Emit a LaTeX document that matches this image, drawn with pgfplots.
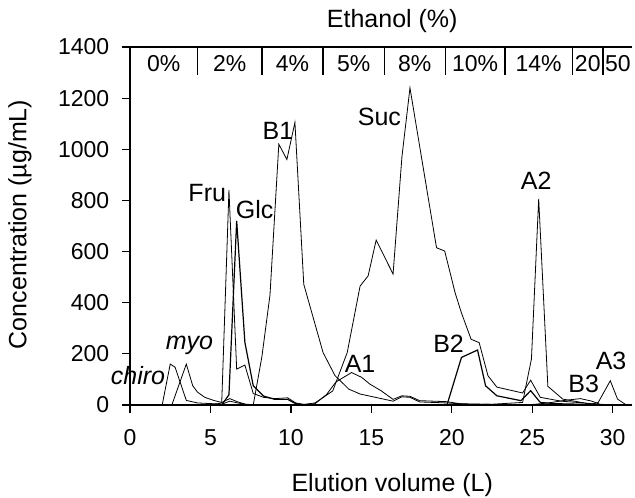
\documentclass[border=0pt]{standalone}
\usepackage{fontspec}
\setmainfont{Liberation Sans}
\usepackage{pgfplots}
\pgfplotsset{compat=1.18}
\usetikzlibrary{calc}

\begin{document}
\fontsize{12.5}{15}\selectfont
\begin{tikzpicture}
\begin{axis}[
    name=ax,
    scale only axis,
    width=251pt, height=179pt,
    xmin=0, xmax=31.2, ymin=0, ymax=1400,
    axis lines=left,
    axis line style={-, line width=0.6pt},
    tick style={black, line width=0.6pt},
    tick align=outside,
    major tick length=4pt,
    xtick={0,5,...,30},
    ytick={0,200,...,1400},
    clip=false,
    /pgf/number format/assume math mode=true,
    /pgf/number format/1000 sep={},
    ticklabel style={font=\fontsize{11.5}{13}\selectfont},
    xticklabel style={yshift=-4pt},
    yticklabel style={xshift=-2pt},
    cycle list={{black, solid, mark=none, line width=0.6pt}},
]
% chiro
\addplot coordinates {(0,0) (2.0,0) (2.5,160) (2.8,148) (3.5,18) (4.2,8) (5.2,5) (5.7,3) (6.2,15) (6.7,8) (7.2,2) (8.0,0) (12,0)};
% myo
\addplot coordinates {(0,0) (2.6,0) (3.5,160) (3.9,75) (4.2,50) (4.65,30) (5.2,18) (5.7,10) (6.2,25) (6.7,12) (7.2,3) (8.0,0) (12,0)};
% Fru
\addplot coordinates {(5.0,0) (5.7,8) (6.15,840) (6.63,140) (7.14,156) (7.66,45) (8.3,30) (9.0,25) (9.8,28) (10.3,8) (11,0) (12,0)};
% Glc
\addplot coordinates {(5.0,0) (5.7,0) (6.15,40) (6.63,720) (7.14,245) (7.66,75) (8.3,35) (9.0,22) (9.8,22) (10.3,5) (11,0) (12,0)};
% B1
\addplot coordinates {(6.5,0) (7.66,0) (8.2,190) (8.7,430) (9.25,1020) (9.75,960) (10.25,1105) (10.8,472) (12.0,205) (12.74,115) (13.6,62) (14.3,43) (15.4,28) (16.35,15) (16.9,32) (17.4,30) (18.0,12) (19.7,8) (21,3) (23,2) (25,0)};
% Suc
\addplot coordinates {(10.5,0) (11.5,8) (12.6,55) (13.5,205) (14.3,465) (14.8,505) (15.3,645) (16.35,512) (16.9,970) (17.4,1240) (19.05,615) (19.56,602) (20.2,440) (20.6,360) (21.2,257) (21.7,244) (22.25,114) (22.8,70) (24.4,47) (24.9,97) (25.5,30) (26.8,15) (28.2,8) (29.5,0)};
% A1
\addplot coordinates {(10.5,0) (11.5,5) (12.2,40) (12.8,90) (13.77,127) (14.4,108) (14.9,82) (15.6,56) (16.35,22) (16.9,36) (17.4,34) (18.0,17) (19.7,13) (20.5,5) (22,3) (24,0)};
% B2
\addplot coordinates {(18.0,0) (19.7,0) (20.6,186) (21.6,215) (22.1,75) (22.8,36) (24.3,17) (24.9,56) (25.5,10) (26.5,5) (28,3) (29,0)};
% A2
\addplot coordinates {(20,0) (22.5,3) (24.4,10) (24.95,180) (25.4,806) (25.97,73) (26.9,23) (28.5,5) (29.5,0)};
% B3
\addplot coordinates {(22,0) (25,2) (26,8) (27,18) (28,25) (28.7,15) (29.2,3) (30,0)};
% A3
\addplot coordinates {(26,0) (28.5,0) (29.1,10) (29.85,95) (30.3,23) (30.85,0)};

% peak labels
\node[font=\itshape] at (axis cs:0.5,117) {chiro};
\node[font=\itshape] at (axis cs:3.7,232) {myo};
\node at (axis cs:4.8,830) {Fru};
\node at (axis cs:7.75,765) {Glc};
\node at (axis cs:9.2,1073) {B1};
\node at (axis cs:15.5,1127) {Suc};
\node at (axis cs:14.3,160) {A1};
\node at (axis cs:19.8,238) {B2};
\node at (axis cs:25.25,875) {A2};
\node at (axis cs:28.2,82) {B3};
\node at (axis cs:29.9,173) {A3};

% ethanol steps
\draw[line width=0.6pt] (axis cs:0,1400) -- (axis cs:31.2,1400);
\draw[line width=0.6pt] (axis cs:4.2,1400) -- (axis cs:4.2,1290);
\draw[line width=0.6pt] (axis cs:8.2,1400) -- (axis cs:8.2,1290);
\draw[line width=0.6pt] (axis cs:12.0,1400) -- (axis cs:12.0,1290);
\draw[line width=0.6pt] (axis cs:15.8,1400) -- (axis cs:15.8,1290);
\draw[line width=0.6pt] (axis cs:19.6,1400) -- (axis cs:19.6,1290);
\draw[line width=0.6pt] (axis cs:23.3,1400) -- (axis cs:23.3,1290);
\draw[line width=0.6pt] (axis cs:27.5,1400) -- (axis cs:27.5,1290);
\draw[line width=0.6pt] (axis cs:29.4,1400) -- (axis cs:29.4,1290);
\begin{scope}[font=\fontsize{11.5}{13}\selectfont]
\node at (axis cs:2.1,1335) {0\%};
\node at (axis cs:6.2,1335) {2\%};
\node at (axis cs:10.1,1335) {4\%};
\node at (axis cs:13.9,1335) {5\%};
\node at (axis cs:17.7,1335) {8\%};
\node at (axis cs:21.45,1335) {10\%};
\node at (axis cs:25.4,1335) {14\%};
\node at (axis cs:28.45,1335) {20};
\node[anchor=west, inner sep=0pt] at (axis cs:29.5,1335) {50};
\end{scope}
\node[anchor=south, inner sep=0pt] at ($(axis cs:16.3,1400)+(0,7pt)$) {Ethanol (\%)};

% axis titles
\node[anchor=center] at ($(axis cs:16.3,0)+(0,-40pt)$) {Elution volume (L)};
\node[rotate=90, anchor=center] at ($(axis cs:0,706)+(-55pt,0)$) {Concentration (µg/mL)};
\end{axis}
\pgfresetboundingbox
\path[use as bounding box] ($(ax.south west)+(-65pt,-46pt)$) rectangle ($(ax.north east)+(1.5pt,23.5pt)$);
\end{tikzpicture}
\end{document}
